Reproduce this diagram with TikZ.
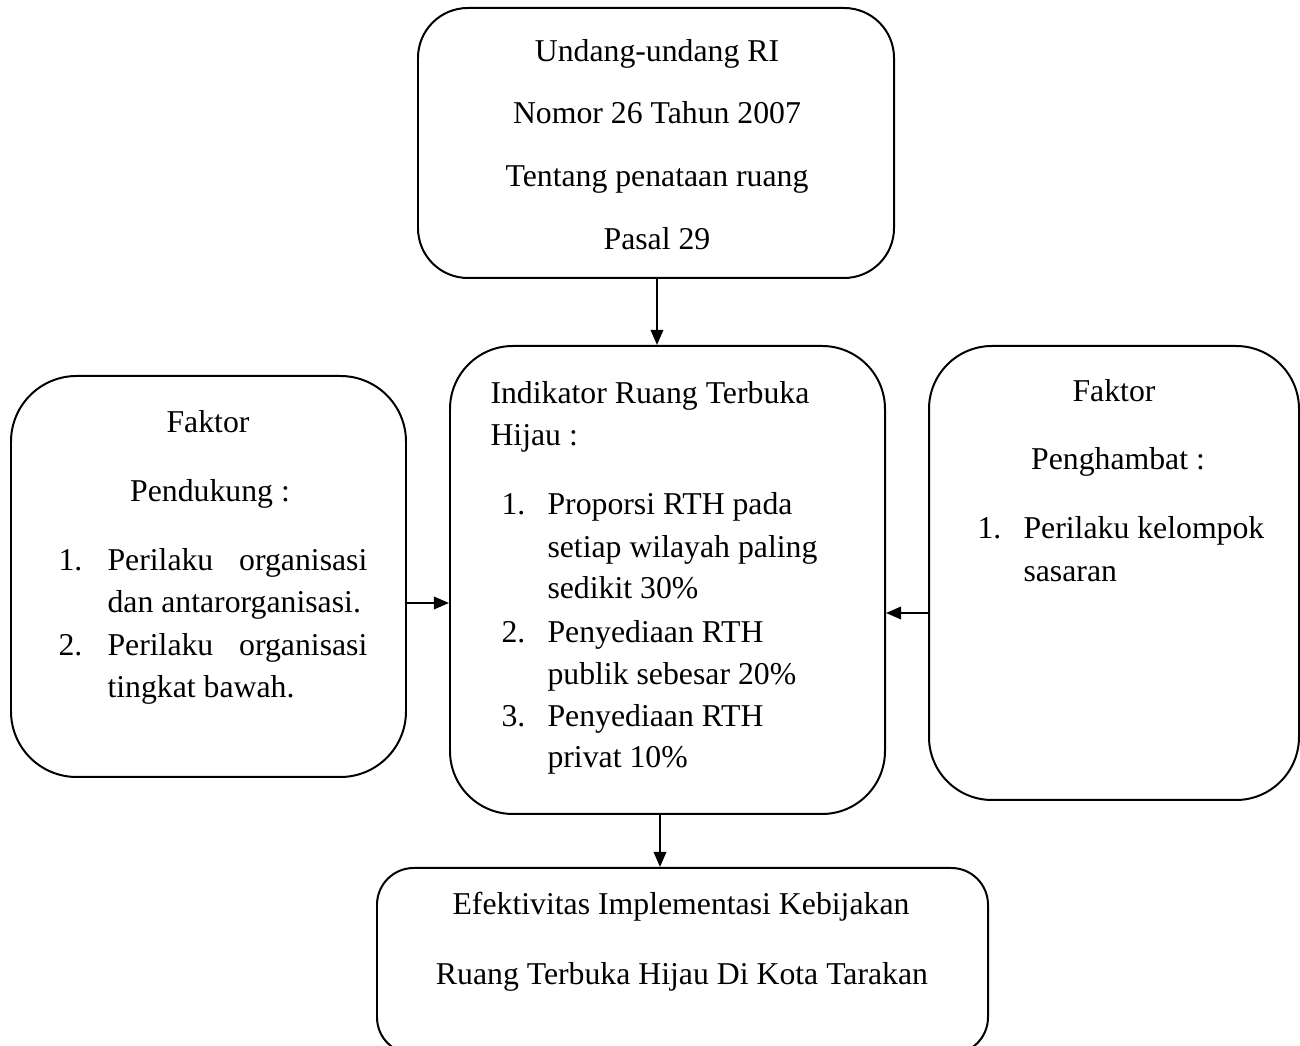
\documentclass[tikz,border=0pt]{standalone}
\usepackage{fontspec}
\setmainfont{Liberation Serif}
\usetikzlibrary{fit,arrows.meta}
\begin{document}
\begin{tikzpicture}[x=0.381pt,y=-0.381pt,
  box/.style={draw,line width=0.76pt,inner sep=0pt},
  arr/.style={line width=0.76pt,-{Triangle[length=5.8pt,width=4.8pt]}},
  txt/.style={inner sep=0pt,anchor=base,font=\fontsize{12.1}{14}\selectfont},
  ltxt/.style={txt,anchor=base west}]
\clip (0,0) rectangle (1300,1046);
% boxes
\node[box,rounded corners=19pt,fit={(418,8)(894,278)}] (top) {};
\node[box,rounded corners=25pt,fit={(11,376)(406,777)}] (left) {};
\node[box,rounded corners=24pt,fit={(450,346)(885,814)}] (mid) {};
\node[box,rounded corners=24pt,fit={(929,346)(1299,800)}] (right) {};
\node[box,rounded corners=14pt,fit={(377,868)(988,1054)}] (bot) {};
% top texts
\node[txt] (t1) at (657,62) {Undang-undang RI};
\node[txt] (t2) at (657,124) {Nomor 26 Tahun 2007};
\node[txt] (t3) at (657,187) {Tentang penataan ruang};
\node[txt] (t4) at (657,250) {Pasal 29};
% left texts
\node[txt] (l1) at (208,433) {Faktor};
\node[txt] (l2) at (210,502) {Pendukung :};
\node[ltxt] (l3n) at (58,571) {1.};
\node[ltxt] (l3) at (107,571) {\hbox to 99pt{Perilaku\hfill organisasi}};
\node[ltxt] (l4) at (107,613) {dan antarorganisasi.};
\node[ltxt] (l5n) at (58,656) {2.};
\node[ltxt] (l5) at (107,656) {\hbox to 99pt{Perilaku\hfill organisasi}};
\node[ltxt] (l6) at (107,698) {tingkat bawah.};
% middle texts
\node[ltxt] (m1) at (490,404) {Indikator Ruang Terbuka};
\node[ltxt] (m2) at (490,446) {Hijau :};
\node[ltxt] (m3n) at (501,515) {1.};
\node[ltxt] (m3) at (547,515) {Proporsi RTH pada};
\node[ltxt] (m4) at (547,558) {setiap wilayah paling};
\node[ltxt] (m5) at (547,599) {sedikit 30\%};
\node[ltxt] (m6n) at (501,643) {2.};
\node[ltxt] (m6) at (547,643) {Penyediaan RTH};
\node[ltxt] (m7) at (547,685) {publik sebesar 20\%};
\node[ltxt] (m8n) at (501,727) {3.};
\node[ltxt] (m8) at (547,727) {Penyediaan RTH};
\node[ltxt] (m9) at (547,768) {privat 10\%};
% right texts
\node[txt] (r1) at (1114,402) {Faktor};
\node[txt] (r2) at (1118,470) {Penghambat :};
\node[ltxt] (r3n) at (977,539) {1.};
\node[ltxt] (r3) at (1023,539) {Perilaku kelompok};
\node[ltxt] (r4) at (1023,582) {sasaran};
% bottom texts
\node[txt] (b1) at (681,915) {Efektivitas Implementasi Kebijakan};
\node[txt] (b2) at (682,985) {Ruang Terbuka Hijau Di Kota Tarakan};
% connectors
\coordinate (ax) at (657,0);
\coordinate (bx) at (660,0);
\coordinate (ay) at (0,603);
\coordinate (by) at (0,613);
\draw[arr] (top.south -| ax) -- (mid.north -| ax);
\draw[arr] (left.east |- ay) -- (mid.west |- ay);
\draw[arr] (right.west |- by) -- (mid.east |- by);
\draw[arr] (mid.south -| bx) -- (bot.north -| bx);
\end{tikzpicture}
\end{document}
